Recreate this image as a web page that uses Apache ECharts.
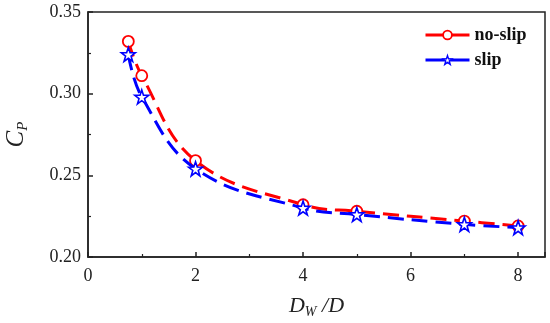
<!DOCTYPE html>
<html><head><meta charset="utf-8">
<script src="https://cdn.jsdelivr.net/npm/echarts@6/dist/echarts.min.js"></script>
<style>html,body{margin:0;padding:0;background:#fff}#c{width:550px;height:323px}</style>
</head><body><div id="c"></div>
<script>
const xValues = [0.75, 1, 2, 4, 5, 7, 8];
const noSlip = [0.332, 0.311, 0.259, 0.232, 0.228, 0.222, 0.219];
const slip = [0.324, 0.298, 0.254, 0.230, 0.226, 0.220, 0.218];
const seriesNames = ['no-slip', 'slip'];
const xTicks = [0, 2, 4, 6, 8];
const yTicks = [0.20, 0.25, 0.30, 0.35];

const star = 'path://M50,2 L61.8,36.8 L98.5,37.3 L69.1,59.2 L79.9,94.3 L50,73 L20.1,94.3 L30.9,59.2 L1.5,37.3 L38.2,36.8 Z';
const font = 'Liberation Serif';
const chart = echarts.init(document.getElementById('c'), null, {renderer: 'canvas'});
chart.setOption({
  animation: false,
  backgroundColor: '#fff',
  grid: {left: 88, right: 5, top: 12, bottom: 66, containLabel: false, outerBoundsMode: 'none',
    show: true, borderColor: '#222', borderWidth: 1.5, backgroundColor: 'transparent'},
  legend: {
    left: 419, top: 21, orient: 'vertical', itemWidth: 44, itemHeight: 11, itemGap: 7,
    textStyle: {fontFamily: font, fontWeight: 'bold', fontSize: 18, color: '#111'},
    lineStyle: {type: 'solid', width: 3},
    data: [
      {name: seriesNames[0], itemStyle: {color: '#fff', borderColor: '#f00', borderWidth: 1.8}},
      {name: seriesNames[1], itemStyle: {color: '#fff', borderColor: '#00f', borderWidth: 1.4}}
    ]
  },
  xAxis: {
    type: 'value', min: 0, max: 8.5, interval: 2,
    axisLine: {show: true, lineStyle: {color: '#222', width: 1.5}},
    axisTick: {show: true, inside: true, length: 5, lineStyle: {color: '#222', width: 1.5}},
    minorTick: {show: true, splitNumber: 2, length: 3, lineStyle: {color: '#222', width: 1.2}},
    splitLine: {show: false},
    axisLabel: {fontFamily: font, fontSize: 18, color: '#222', margin: 10,
      formatter: v => xTicks.indexOf(v) >= 0 ? String(v) : ''},
    name: '{i|D}{s|W}{i| /D}', nameLocation: 'middle', nameGap: 36,
    nameTextStyle: {rich: {
      i: {fontFamily: font, fontStyle: 'italic', fontSize: 22, color: '#222'},
      s: {fontFamily: font, fontStyle: 'italic', fontSize: 14, color: '#222', verticalAlign: 'bottom', padding: [12, 0, 0, 0]}
    }}
  },
  yAxis: {
    type: 'value', min: 0.20, max: 0.35, interval: 0.05,
    axisLine: {show: true, lineStyle: {color: '#222', width: 1.5}},
    axisTick: {show: true, inside: true, length: 5, lineStyle: {color: '#222', width: 1.5}},
    minorTick: {show: true, splitNumber: 2, length: 3, lineStyle: {color: '#222', width: 1.2}},
    splitLine: {show: false},
    axisLabel: {fontFamily: font, fontSize: 18, color: '#222', margin: 7,
      formatter: v => yTicks.some(t => Math.abs(t - v) < 1e-9) ? v.toFixed(2) : ''},
    name: '{i|C}{s|P}', nameLocation: 'middle', nameGap: 57, nameRotate: 90,
    nameTextStyle: {rich: {
      i: {fontFamily: font, fontStyle: 'italic', fontSize: 25, color: '#222'},
      s: {fontFamily: font, fontStyle: 'italic', fontSize: 15, color: '#222', padding: [14, 0, 0, 0]}
    }}
  },
  series: [
    {
      name: seriesNames[0], type: 'line', smooth: 0.4,
      data: xValues.map((x, i) => [x, noSlip[i]]),
      symbol: 'circle', symbolSize: 11, showAllSymbol: true,
      lineStyle: {color: '#f00', width: 3, type: [16, 8]},
      itemStyle: {color: '#fff', borderColor: '#f00', borderWidth: 1.8},
      color: '#f00', z: 2
    },
    {
      name: seriesNames[1], type: 'line', smooth: 0.4,
      data: xValues.map((x, i) => [x, slip[i]]),
      symbol: star, symbolSize: 14, showAllSymbol: true,
      lineStyle: {color: '#00f', width: 3, type: [16, 8]},
      itemStyle: {color: '#fff', borderColor: '#00f', borderWidth: 1.6},
      color: '#00f', z: 3
    }
  ]
});
</script></body></html>
